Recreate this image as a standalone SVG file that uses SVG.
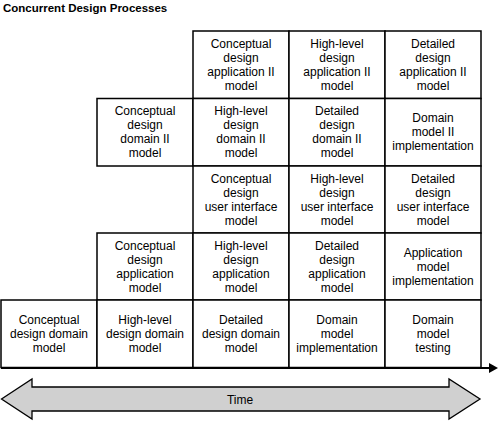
<svg xmlns="http://www.w3.org/2000/svg" width="500" height="422" viewBox="0 0 500 422">
<defs>
<style>
.cell rect{fill:#fff;stroke:#000;stroke-width:1.5}
text{font-family:"Liberation Sans",Arial,sans-serif;font-size:12px;fill:#000;text-anchor:middle}
.title{font-weight:bold;font-size:11.5px;text-anchor:start}
.axis{stroke:#000;stroke-width:2;fill:none}
.big{fill:#d0d0d0;stroke:#000;stroke-width:1.3}
</style>
<marker id="ah" markerWidth="10" markerHeight="10" refX="0" refY="5" orient="auto" markerUnits="userSpaceOnUse">
<path d="M0,0 L9,5 L0,10 Z" fill="#000"/>
</marker>
</defs>
<rect width="500" height="422" fill="#fff"/>
<text class="title" x="3" y="12">Concurrent Design Processes</text>

<g id="r1c2" class="cell"><rect x="193" y="31" width="96" height="67.5"/><text x="241" y="47.5">Conceptual</text><text x="241" y="61.5">design</text><text x="241" y="75.5">application II</text><text x="241" y="89.5">model</text></g>
<g id="r1c3" class="cell"><rect x="289" y="31" width="96" height="67.5"/><text x="337" y="47.5">High-level</text><text x="337" y="61.5">design</text><text x="337" y="75.5">application II</text><text x="337" y="89.5">model</text></g>
<g id="r1c4" class="cell"><rect x="385" y="31" width="96" height="67.5"/><text x="433" y="47.5">Detailed</text><text x="433" y="61.5">design</text><text x="433" y="75.5">application II</text><text x="433" y="89.5">model</text></g>

<g id="r2c1" class="cell"><rect x="97" y="98.5" width="96" height="67.5"/><text x="145" y="115">Conceptual</text><text x="145" y="129">design</text><text x="145" y="143">domain II</text><text x="145" y="157">model</text></g>
<g id="r2c2" class="cell"><rect x="193" y="98.5" width="96" height="67.5"/><text x="241" y="115">High-level</text><text x="241" y="129">design</text><text x="241" y="143">domain II</text><text x="241" y="157">model</text></g>
<g id="r2c3" class="cell"><rect x="289" y="98.5" width="96" height="67.5"/><text x="337" y="115">Detailed</text><text x="337" y="129">design</text><text x="337" y="143">domain II</text><text x="337" y="157">model</text></g>
<g id="r2c4" class="cell"><rect x="385" y="98.5" width="96" height="67.5"/><text x="433" y="122">Domain</text><text x="433" y="136">model II</text><text x="433" y="150">implementation</text></g>

<g id="r3c2" class="cell"><rect x="193" y="166" width="96" height="67"/><text x="241" y="182.5">Conceptual</text><text x="241" y="196.5">design</text><text x="241" y="210.5">user interface</text><text x="241" y="224.5">model</text></g>
<g id="r3c3" class="cell"><rect x="289" y="166" width="96" height="67"/><text x="337" y="182.5">High-level</text><text x="337" y="196.5">design</text><text x="337" y="210.5">user interface</text><text x="337" y="224.5">model</text></g>
<g id="r3c4" class="cell"><rect x="385" y="166" width="96" height="67"/><text x="433" y="182.5">Detailed</text><text x="433" y="196.5">design</text><text x="433" y="210.5">user interface</text><text x="433" y="224.5">model</text></g>

<g id="r4c1" class="cell"><rect x="97" y="233" width="96" height="67"/><text x="145" y="249.5">Conceptual</text><text x="145" y="263.5">design</text><text x="145" y="277.5">application</text><text x="145" y="291.5">model</text></g>
<g id="r4c2" class="cell"><rect x="193" y="233" width="96" height="67"/><text x="241" y="249.5">High-level</text><text x="241" y="263.5">design</text><text x="241" y="277.5">application</text><text x="241" y="291.5">model</text></g>
<g id="r4c3" class="cell"><rect x="289" y="233" width="96" height="67"/><text x="337" y="249.5">Detailed</text><text x="337" y="263.5">design</text><text x="337" y="277.5">application</text><text x="337" y="291.5">model</text></g>
<g id="r4c4" class="cell"><rect x="385" y="233" width="96" height="67"/><text x="433" y="256.5">Application</text><text x="433" y="270.5">model</text><text x="433" y="284.5">implementation</text></g>

<g id="r5c0" class="cell"><rect x="1" y="300" width="96" height="67.5"/><text x="49" y="323.5">Conceptual</text><text x="49" y="337.5">design domain</text><text x="49" y="351.5">model</text></g>
<g id="r5c1" class="cell"><rect x="97" y="300" width="96" height="67.5"/><text x="145" y="323.5">High-level</text><text x="145" y="337.5">design domain</text><text x="145" y="351.5">model</text></g>
<g id="r5c2" class="cell"><rect x="193" y="300" width="96" height="67.5"/><text x="241" y="323.5">Detailed</text><text x="241" y="337.5">design domain</text><text x="241" y="351.5">model</text></g>
<g id="r5c3" class="cell"><rect x="289" y="300" width="96" height="67.5"/><text x="337" y="323.5">Domain</text><text x="337" y="337.5">model</text><text x="337" y="351.5">implementation</text></g>
<g id="r5c4" class="cell"><rect x="385" y="300" width="96" height="67.5"/><text x="433" y="323.5">Domain</text><text x="433" y="337.5">model</text><text x="433" y="351.5">testing</text></g>

<g id="connectors">
<line class="axis" x1="1" y1="368" x2="489" y2="368" marker-end="url(#ah)"/>
</g>

<g id="time">
<polygon class="big" points="1.5,399 32,379 32,387 449,387 449,379 480,399 449,419 449,411 32,411 32,419"/>
<text x="240" y="404">Time</text>
</g>
</svg>
